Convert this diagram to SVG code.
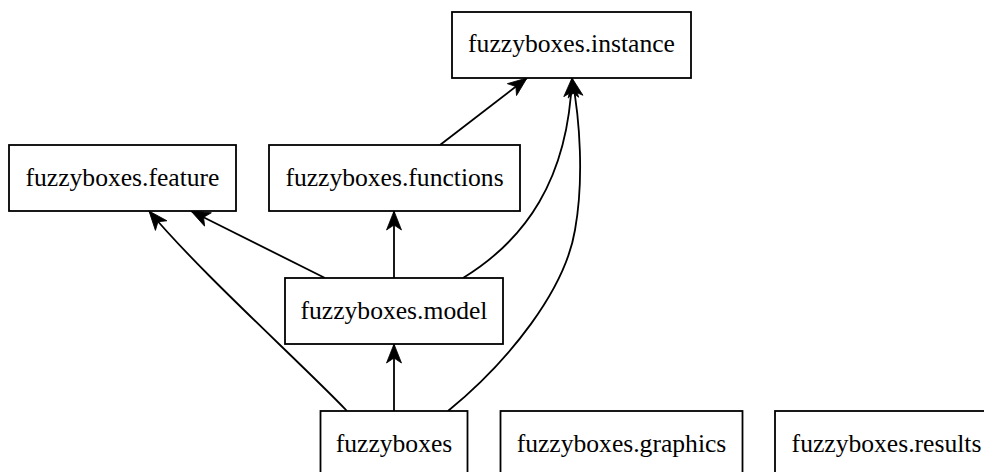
<svg xmlns="http://www.w3.org/2000/svg" width="984" height="472" viewBox="0 0 984 472">
<style>
  .box { fill: #ffffff; stroke: #000000; stroke-width: 1.8; }
  .lbl { font-family: "Liberation Serif", "Times New Roman", serif; font-size: 25.6px; fill: #000000; text-anchor: middle; }
  .edge { fill: none; stroke: #000000; stroke-width: 1.8; marker-end: url(#vee); }
</style>
<defs>
  <marker id="vee" viewBox="0 0 20 17" refX="19.5" refY="8.5" markerWidth="20" markerHeight="17" markerUnits="userSpaceOnUse" orient="auto">
    <path d="M0.5,1 L19.5,8.5 L0.5,16 L5.5,8.5 Z" fill="#000000" stroke="#000000" stroke-width="0.8" stroke-linejoin="miter"/>
  </marker>
</defs>
<rect width="984" height="472" fill="#ffffff"/>
<g id="connectors">
  <path class="edge" d="M440,145 L527,78"/>
  <path class="edge" d="M394,278 L394,211"/>
  <path class="edge" d="M325,278 L191,211"/>
  <path class="edge" d="M463,278 C525,240 568,180 572,78"/>
  <path class="edge" d="M394,411 L394,344"/>
  <path class="edge" d="M347,411 C300,362 200,272 149,211"/>
  <path class="edge" d="M448,411 C510,360 565,290 575,230 C584,180 580,120 572,78"/>
</g>
<g id="node-instance">
  <rect class="box" x="452" y="12" width="239" height="66"/>
  <text class="lbl" x="571.5" y="52">fuzzyboxes.instance</text>
</g>
<g id="node-feature">
  <rect class="box" x="9" y="145" width="227" height="66"/>
  <text class="lbl" x="122.5" y="185.5">fuzzyboxes.feature</text>
</g>
<g id="node-functions">
  <rect class="box" x="269" y="145" width="251" height="66"/>
  <text class="lbl" x="394.5" y="185.5">fuzzyboxes.functions</text>
</g>
<g id="node-model">
  <rect class="box" x="285" y="278" width="218" height="66"/>
  <text class="lbl" x="394" y="318.5">fuzzyboxes.model</text>
</g>
<g id="node-fuzzyboxes">
  <rect class="box" x="320.5" y="411" width="147" height="66"/>
  <text class="lbl" x="394" y="451.5">fuzzyboxes</text>
</g>
<g id="node-graphics">
  <rect class="box" x="500.5" y="411" width="242" height="66"/>
  <text class="lbl" x="621.5" y="451.5">fuzzyboxes.graphics</text>
</g>
<g id="node-results">
  <rect class="box" x="775" y="411" width="223" height="66"/>
  <text class="lbl" x="886.5" y="451.5">fuzzyboxes.results</text>
</g>
</svg>
